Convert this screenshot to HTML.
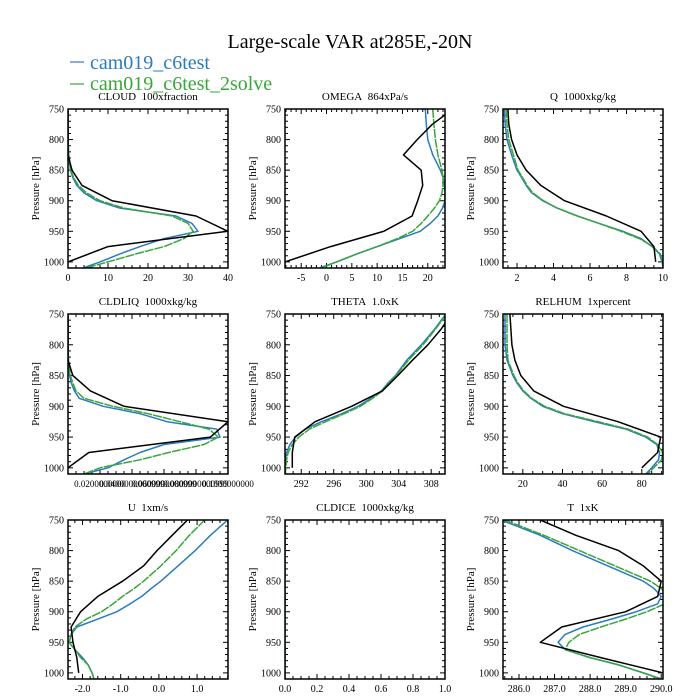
<!DOCTYPE html>
<html><head><meta charset="utf-8"><style>
html,body{margin:0;padding:0;background:#fff;}
svg{display:block;font-family:"Liberation Serif",serif;}
</style></head><body>
<svg id="chart" width="700" height="700" viewBox="0 0 700 700">
<text x="350" y="48" text-anchor="middle" font-size="20">Large-scale VAR at285E,-20N</text>
<g>
<line x1="70" y1="62" x2="84" y2="62" stroke="#2b7bbf" stroke-width="1.2"/>
<text x="90" y="69" font-size="20" fill="#2b7bbf">cam019_c6test</text>
<line x1="70" y1="84" x2="84" y2="84" stroke="#3aa53a" stroke-width="1.2"/>
<text x="90" y="90" font-size="20" fill="#3aa53a">cam019_c6test_2solve</text>
</g>
</svg>
<script>
const modelLevels = [750,775,800,825,850,862,875,887,900,912,925,937,950,962,975,987,1000,1010];
const obsLevels = [750,775,800,825,850,875,900,925,950,975,1000];

const cloudBlue = [0,0,0,0.2,0.6,1.2,2.2,4,7.2,13,27,31,32.5,24,18,13,8,3.8];
const cloudGreen = [0,0,0,0.2,0.7,1.4,2.6,4.6,8,14,26,30,31.3,29,24,17,10,4.5];
const cloudBlack = [0,0,0,0,1,3.5,11,32,40,10,0];

const omegaBlue = [19.5,19.7,20,21,22.5,23,23.3,23.4,23.4,22.9,22,20.5,18.5,14.5,10,6,2,-1.4];
const omegaGreen = [21,21.2,21.5,22,22.8,23,23,22.8,22.3,21.3,20,18.7,17,14,10,6,2,-1];
const omegaBlack = [25,20.9,17.9,15.2,18.7,19,18,16.9,11.3,0.8,-8.2];

const qBlue = [1.3,1.35,1.45,1.7,2.0,2.25,2.5,2.8,3.4,4.2,5.3,6.5,7.8,8.8,9.4,9.8,9.95,10];
const qGreen = [1.4,1.45,1.55,1.8,2.05,2.3,2.55,2.85,3.45,4.2,5.3,6.5,7.7,8.7,9.45,9.85,10,10];
const qBlack = [1.5,1.55,1.7,2.0,2.5,3.3,4.6,6.9,8.8,9.5,9.6];

const liqBlue = [0,0,0,0.3,1,2,4,7,22,45,62,93,95,60,45,35,25,10];
const liqGreen = [0,0,0,0.3,1.5,3,5,10,28,50,70,88,94,85,63,45,20,10];
const liqBlack = [0,0,0,0,3,14,35,100,89,13,0];

const thetaBlue = [309.8,308.4,306.8,305,303.6,302.7,301.9,300.6,299,297,294.5,292.5,291.3,290.6,290.2,290.05,290,290];
const thetaGreen = [309.9,308.5,307,305.2,303.7,302.8,302,300.8,299.3,297.3,295,293,291.7,290.9,290.4,290.2,290.1,290.05];
const thetaBlack = [310.5,309.2,307.6,305.7,303.9,302,298.2,293.7,291.2,290.9,290.9];

const rhBlue = [11,11,11,12,15,17,20,24,30,40,56,72,82,87.5,89,88.5,85,82];
const rhGreen = [12,12,12,12.5,15.5,17.5,20.5,24.5,31,41,58,73,83,88,90.5,90,86,83];
const rhBlack = [13.5,14,14.5,16,19,25.5,40.5,68,89.5,88,80];

const uBlue = [1.8,1.35,0.95,0.5,0.05,-0.2,-0.45,-0.75,-1.1,-1.6,-2.15,-2.3,-2.35,-2.2,-2.0,-1.85,-1.75,-1.7];
const uGreen = [1.2,0.8,0.45,0.05,-0.4,-0.65,-0.95,-1.2,-1.5,-1.9,-2.2,-2.3,-2.35,-2.2,-2.05,-1.85,-1.75,-1.7];
const uBlack = [0.75,0.35,-0.05,-0.4,-0.95,-1.6,-2.05,-2.3,-2.25,-2.15,-2.1];

const iceBlue = [0,0,0,0,0,0,0,0,0,0,0,0,0,0,0,0,0,0];
const iceGreen = [0,0,0,0,0,0,0,0,0,0,0,0,0,0,0,0,0,0];

const tBlue = [285.5,286.6,287.5,288.5,289.5,289.8,290.0,289.9,289.3,288.6,287.8,287.3,287.1,287.3,288.0,288.8,289.5,290.0];
const tGreen = [285.6,286.7,287.7,288.7,289.7,290.0,290.2,290.1,289.6,289.0,288.3,287.7,287.4,287.3,288.0,288.8,289.5,290.0];
const tBlack = [286.6,287.6,288.8,289.5,290.0,289.9,289.0,287.2,286.6,288.3,290.05];

const yTicks = [750,800,850,900,950,1000];
const cloudTicks = [0,10,20,30,40];
const omegaTicks = [-5,0,5,10,15,20];
const qTicks = [2,4,6,8,10];
const liqTicks = [20,40,60,80,100];
const liqTickLabels = ["0.0200000000","0.0400000000999","0.0600000000999","0.0800000000999","0.1000000000"];
const thetaTicks = [292,296,300,304,308];
const rhTicks = [20,40,60,80];
const uTicks = [-2,-1,0,1];
const uTickLabels = ["-2.0","-1.0","0.0","1.0"];
const iceTicks = [0,0.2,0.4,0.6,0.8,1.0];
const iceTickLabels = ["0.0","0.2","0.4","0.6","0.8","1.0"];
const tTicks = [286,287,288,289,290];
const tTickLabels = ["286.0","287.0","288.0","289.0","290.0"];

const NS = "http://www.w3.org/2000/svg";
const svg = document.getElementById("chart");
function mk(tag, attrs, parent){ const e=document.createElementNS(NS,tag); for(const k in attrs) e.setAttribute(k,attrs[k]); (parent||svg).appendChild(e); return e; }

const colX = [68,285,503];
const rowY = [[109,268],[314,474],[520,679]];
const W = 160;
const PMIN = 750, PMAX = 1010;

const panels = [
 {name:"cloud", title:"CLOUD\u00a0\u00a0100xfraction", c:0,r:0, xmin:0,xmax:40, ticks:cloudTicks, labels:null, minor:2, blue:cloudBlue, green:cloudGreen, black:cloudBlack},
 {name:"omega", title:"OMEGA\u00a0\u00a0864xPa/s", c:1,r:0, xmin:-8.2,xmax:23.4, ticks:omegaTicks, labels:null, minor:1, blue:omegaBlue, green:omegaGreen, black:omegaBlack},
 {name:"q", title:"Q\u00a0\u00a01000xkg/kg", c:2,r:0, xmin:1.23,xmax:10, ticks:qTicks, labels:null, minor:0.5, blue:qBlue, green:qGreen, black:qBlack},
 {name:"cldliq", title:"CLDLIQ\u00a0\u00a01000xkg/kg", c:0,r:1, xmin:0,xmax:100, ticks:liqTicks, labels:liqTickLabels, minor:5, blue:liqBlue, green:liqGreen, black:liqBlack, fs:9},
 {name:"theta", title:"THETA\u00a0\u00a01.0xK", c:1,r:1, xmin:290,xmax:309.7, ticks:thetaTicks, labels:null, minor:1, blue:thetaBlue, green:thetaGreen, black:thetaBlack},
 {name:"relhum", title:"RELHUM\u00a0\u00a01xpercent", c:2,r:1, xmin:10,xmax:90.7, ticks:rhTicks, labels:null, minor:5, blue:rhBlue, green:rhGreen, black:rhBlack},
 {name:"u", title:"U\u00a0\u00a01xm/s", c:0,r:2, xmin:-2.38,xmax:1.81, ticks:uTicks, labels:uTickLabels, minor:0.2, blue:uBlue, green:uGreen, black:uBlack},
 {name:"cldice", title:"CLDICE\u00a0\u00a01000xkg/kg", c:1,r:2, xmin:0,xmax:1, ticks:iceTicks, labels:iceTickLabels, minor:0.05, blue:iceBlue, green:iceGreen, black:null},
 {name:"t", title:"T\u00a0\u00a01xK", c:2,r:2, xmin:285.55,xmax:290.05, ticks:tTicks, labels:tTickLabels, minor:0.2, blue:tBlue, green:tGreen, black:tBlack}
];

panels.forEach(p=>{
  const x0=colX[p.c], x1=x0+W, y0=rowY[p.r][0], y1=rowY[p.r][1];
  const sx = v => x0 + (v-p.xmin)/(p.xmax-p.xmin)*W;
  const sy = v => y0 + (v-PMIN)/(PMAX-PMIN)*(y1-y0);
  const g = mk("g",{});
  
  
  const clipId="clip-"+p.name;
  const cp = mk("clipPath",{id:clipId},g);
  mk("rect",{x:x0,y:y0,width:W,height:y1-y0},cp);
  const t = mk("text",{x:(x0+x1)/2,y:y0-9,"text-anchor":"middle","font-size":"11"},g);
  t.textContent=p.title;
  
  
  const yl = mk("text",{x:0,y:0,"text-anchor":"middle","font-size":"11",transform:`translate(${x0-29},${(y0+y1)/2}) rotate(-90)`},g);
  yl.textContent="Pressure [hPa]";
  
  
  for(let v=750; v<=1010; v+=10){
    const major = yTicks.includes(v);
    const L = major?5:3;
    const yy=sy(v);
    mk("line",{x1:x0,y1:yy,x2:x0+L,y2:yy,stroke:"#000","stroke-width":1},g);
    mk("line",{x1:x1,y1:yy,x2:x1-L,y2:yy,stroke:"#000","stroke-width":1},g);
  }
  yTicks.forEach(v=>{
    const tl=mk("text",{x:x0-4,y:sy(v)+3.5,"text-anchor":"end","font-size":"10"},g);
    tl.textContent=v;
    
    
  });
  const start = Math.ceil(p.xmin/p.minor-1e-9);
  for(let k=start; k*p.minor<=p.xmax+1e-9; k++){
    const v=k*p.minor; const xx=sx(v);
    const major = p.ticks.some(tv=>Math.abs(tv-v)<1e-6);
    const L = major?5:3;
    mk("line",{x1:xx,y1:y1,x2:xx,y2:y1-L,stroke:"#000","stroke-width":1},g);
    mk("line",{x1:xx,y1:y0,x2:xx,y2:y0+L,stroke:"#000","stroke-width":1},g);
  }
  p.ticks.forEach((v,i)=>{
    const tl=mk("text",{x:sx(v),y:y1+13,"text-anchor":"middle","font-size":String(p.fs||10)},g);
    tl.textContent = p.labels ? p.labels[i] : v;
    
    
  });
  const series = [[p.blue,modelLevels,"#2b7bbf",null,"series-c6test"],[p.green,modelLevels,"#3aa53a","9,1","series-c6test-2solve"],[p.black,obsLevels,"#000",null,"series-obs"]];
  series.forEach(s=>{
    if(!s[0]) return;
    const pts = s[0].map((v,i)=>sx(v).toFixed(1)+","+sy(s[1][i]).toFixed(1)).join(" ");
    const attrs={points:pts,fill:"none",stroke:s[2],"stroke-width":1.5,"clip-path":`url(#${clipId})`,"stroke-linejoin":"round"};
    if(s[3]) attrs["stroke-dasharray"]=s[3];
    const pl=mk("polyline",attrs,g);
    
    
  });
  const fr=mk("rect",{x:x0,y:y0,width:W,height:y1-y0,fill:"none",stroke:"#000","stroke-width":1.5},g);
  
  
});
</script>
</body></html>
